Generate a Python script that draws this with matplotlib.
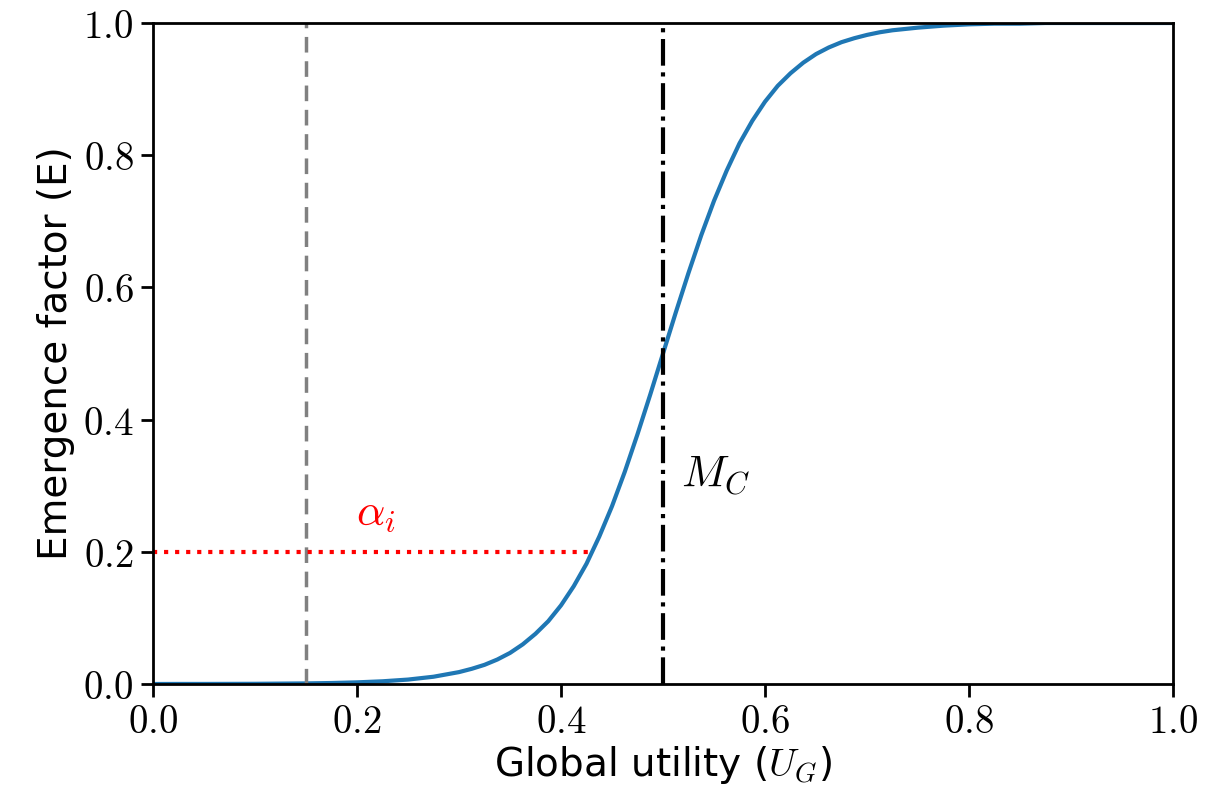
import numpy as np
import matplotlib
matplotlib.use("Agg")
import matplotlib.pyplot as plt

plt.rcParams["mathtext.fontset"] = "cm"
plt.rcParams["font.family"] = "DejaVu Sans"

# curve
utility = [0.000, 0.025, 0.050, 0.075, 0.100, 0.125, 0.150, 0.175, 0.200, 0.225,
           0.250, 0.275, 0.300, 0.3125, 0.325, 0.3375, 0.350, 0.3625, 0.375, 0.3875,
           0.400, 0.4125, 0.425, 0.4375, 0.450, 0.4625, 0.475, 0.4875, 0.500, 0.5125,
           0.525, 0.5375, 0.550, 0.5625, 0.575, 0.5875, 0.600, 0.6125, 0.625, 0.6375,
           0.650, 0.6625, 0.675, 0.6875, 0.700, 0.7125, 0.725, 0.7375, 0.750, 0.775,
           0.800, 0.825, 0.850, 0.875, 0.900, 0.925, 0.950, 0.975, 1.000]
emergence = [0.0000, 0.0001, 0.0001, 0.0002, 0.0003, 0.0006, 0.0009, 0.0015, 0.0025, 0.0041,
             0.0067, 0.011, 0.018, 0.023, 0.029, 0.037, 0.047, 0.060, 0.076, 0.095,
             0.119, 0.148, 0.182, 0.223, 0.269, 0.321, 0.378, 0.438, 0.500, 0.562,
             0.622, 0.679, 0.731, 0.777, 0.818, 0.852, 0.881, 0.905, 0.924, 0.940,
             0.953, 0.963, 0.971, 0.977, 0.982, 0.986, 0.989, 0.991, 0.993, 0.996,
             0.998, 0.999, 0.999, 1.000, 1.000, 1.000, 1.000, 1.000, 1.000]

alpha_level = 0.2
alpha_end = 0.43
threshold_u = 0.15
critical_mass = 0.5

xticks = [0.0, 0.2, 0.4, 0.6, 0.8, 1.0]
yticks = [0.0, 0.2, 0.4, 0.6, 0.8, 1.0]
tick_labels = ["$0.0$", "$0.2$", "$0.4$", "$0.6$", "$0.8$", "$1.0$"]

fig = plt.figure(figsize=(12.18, 7.96), dpi=100)
ax = fig.add_axes([0.1256, 0.1407, 0.8375, 0.8304])

ax.plot(utility, emergence, color="#1f77b4", lw=3)
ax.axvline(threshold_u, color="gray", ls="--", lw=2.5, dashes=(4.5, 2.5))
ax.axvline(critical_mass, color="black", ls="-.", lw=3)
ax.plot([0, alpha_end], [alpha_level, alpha_level], color="red", ls=":", lw=3)

ax.text(0.199, 0.242, r"$\alpha_i$", color="red", fontsize=32)
ax.text(0.518, 0.298, r"$M_C$", color="black", fontsize=32)

ax.set_xlim(0, 1)
ax.set_ylim(0, 1)
ax.set_xticks(xticks)
ax.set_yticks(yticks)
ax.set_xticklabels(tick_labels, fontsize=28)
ax.set_yticklabels(tick_labels, fontsize=28)
ax.tick_params(length=9, width=2, pad=5)
for sp in ax.spines.values():
    sp.set_linewidth(2)

ax.set_xlabel("Global utility ($U_G$)", fontsize=28, labelpad=2)
ax.set_ylabel("Emergence factor (E)", fontsize=28, labelpad=6)

fig.savefig("out.png", dpi=100)
